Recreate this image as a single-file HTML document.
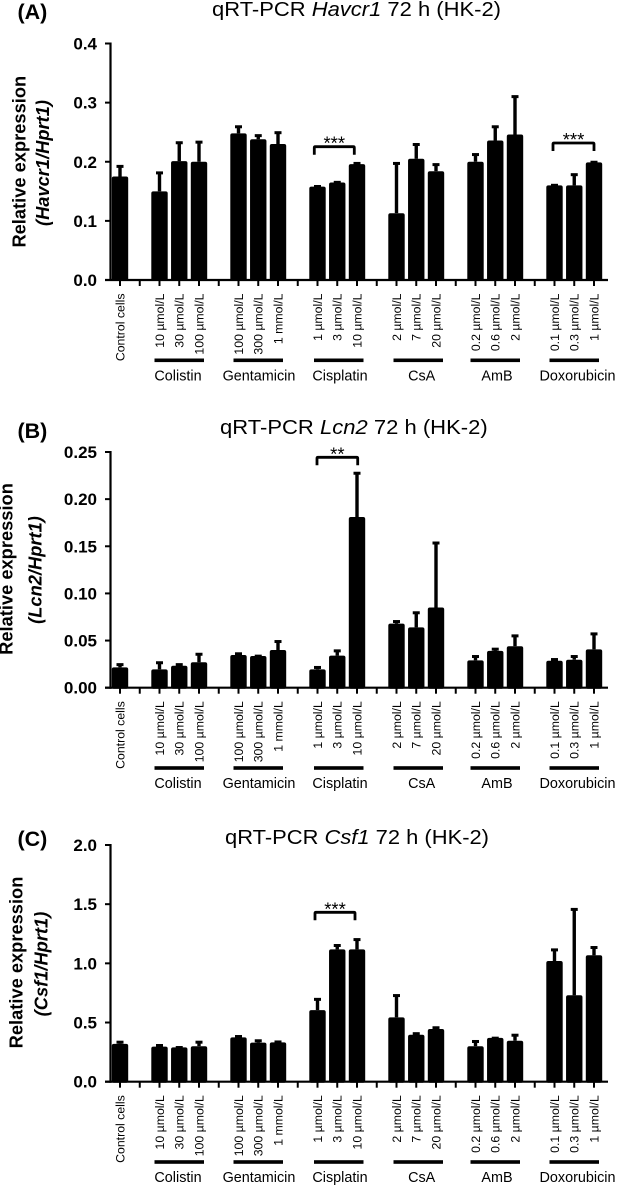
<!DOCTYPE html>
<html lang="en">
<head>
<meta charset="utf-8">
<title>qRT-PCR 72 h (HK-2)</title>
<style>
html,body{margin:0;padding:0;background:#fff;}
#figure{display:block;width:617px;height:1186px;filter:blur(0.3px);}
text{font-family:"Liberation Sans",Arial,sans-serif;fill:#000;}
</style>
</head>
<body>
<svg id="figure" xmlns="http://www.w3.org/2000/svg" width="617" height="1186" viewBox="0 0 617 1186"></svg>
<script>
// ---- shared categories (one slot per x-axis tick; null = empty tick between groups)
const categories = ["Control cells", null,
  "10 µmol/L", "30 µmol/L", "100 µmol/L", null,
  "100 µmol/L", "300 µmol/L", "1 mmol/L", null,
  "1 µmol/L", "3 µmol/L", "10 µmol/L", null,
  "2 µmol/L", "7 µmol/L", "20 µmol/L", null,
  "0.2 µmol/L", "0.6 µmol/L", "2 µmol/L", null,
  "0.1 µmol/L", "0.3 µmol/L", "1 µmol/L"];
const groupNames = ["Colistin", "Gentamicin", "Cisplatin", "CsA", "AmB", "Doxorubicin"];
const groupFirstSlots = [2, 6, 10, 14, 18, 22];

// ---- panel A: Havcr1
const havcr1Values = [0.175, null, 0.150, 0.201, 0.200, null, 0.248, 0.238, 0.230, null, 0.158, 0.165, 0.196, null, 0.113, 0.205, 0.184, null, 0.200, 0.236, 0.246, null, 0.160, 0.160, 0.199];
const havcr1ErrorTops = [0.193, null, 0.182, 0.233, 0.234, null, 0.260, 0.245, 0.250, null, 0.159, 0.166, 0.198, null, 0.198, 0.230, 0.196, null, 0.213, 0.260, 0.311, null, 0.161, 0.179, 0.200];
const havcr1Ticks = ["0.0", "0.1", "0.2", "0.3", "0.4"];

// ---- panel B: Lcn2
const lcn2Values = [0.0216, null, 0.0195, 0.0233, 0.0270, null, 0.0347, 0.0336, 0.0400, null, 0.0195, 0.0340, 0.1810, null, 0.0680, 0.0640, 0.0850, null, 0.0290, 0.0390, 0.0440, null, 0.0286, 0.0297, 0.0407];
const lcn2ErrorTops = [0.0250, null, 0.0270, 0.0250, 0.0360, null, 0.0365, 0.0340, 0.0495, null, 0.0220, 0.0396, 0.2280, null, 0.0707, 0.0800, 0.1540, null, 0.0336, 0.0414, 0.0555, null, 0.0304, 0.0336, 0.0576];
const lcn2Ticks = ["0.00", "0.05", "0.10", "0.15", "0.20", "0.25"];

// ---- panel C: Csf1
const csf1Values = [0.320, null, 0.296, 0.290, 0.300, null, 0.375, 0.330, 0.332, null, 0.605, 1.118, 1.118, null, 0.544, 0.397, 0.445, null, 0.300, 0.370, 0.346, null, 1.020, 0.730, 1.068];
const csf1ErrorTops = [0.338, null, 0.310, 0.293, 0.338, null, 0.386, 0.350, 0.340, null, 0.700, 1.155, 1.205, null, 0.732, 0.410, 0.460, null, 0.344, 0.372, 0.397, null, 1.118, 1.460, 1.138];
const csf1Ticks = ["0.0", "0.5", "1.0", "1.5", "2.0"];

const panels = [
  {key:"a", letter:"(A)", gene:"Havcr1", ratio:"Havcr1/Hprt1", values:havcr1Values, tops:havcr1ErrorTops, ticks:havcr1Ticks,
   y0:280, yTop:43.5, titleX:212, titleW:289, titleY:16, letterY:19,
   yt1X:25.7, yt1C:161.7, yt2X:49, yt2C:163,
   sig:[{x1:314.3,x2:354.3,y:146.7,text:"***"},{x1:553,x2:594,y:143,text:"***"}]},
  {key:"b", letter:"(B)", gene:"Lcn2", ratio:"Lcn2/Hprt1", values:lcn2Values, tops:lcn2ErrorTops, ticks:lcn2Ticks,
   y0:687.7, yTop:452, titleX:220, titleW:267.7, titleY:434, letterY:438,
   yt1X:12.7, yt1C:569, yt2X:41.7, yt2C:570,
   sig:[{x1:317,x2:357.7,y:457.3,text:"**"}]},
  {key:"c", letter:"(C)", gene:"Csf1", ratio:"Csf1/Hprt1", values:csf1Values, tops:csf1ErrorTops, ticks:csf1Ticks,
   y0:1081.7, yTop:845, titleX:225, titleW:264, titleY:844, letterY:846,
   yt1X:22.7, yt1C:962.5, yt2X:47.7, yt2C:964,
   sig:[{x1:315,x2:355,y:912.3,text:"***"}]}
];

const NS = "http://www.w3.org/2000/svg";
const svg = document.getElementById("figure");
const groupOffsets = [0, 0, 1.5, 2, 0, 0];
const groupLabelCenters = [178, 259, 340, 421.7, 497, 577.5];
function xScale(slot){ return 120 + 19.75 * slot; }
function mk(tag, attrs, parent){
  const el = document.createElementNS(NS, tag);
  for (const k in attrs) el.setAttribute(k, attrs[k]);
  (parent || svg).appendChild(el);
  return el;
}
function drawPanel(p){
  const g = mk("g", {});
  
  
  const maxV = parseFloat(p.ticks[p.ticks.length - 1]);
  const yScale = v => p.y0 - (v / maxV) * (p.y0 - p.yTop);

  // panel letter
  const letter = mk("text", {x:17.5, y:p.letterY, "font-size":21.5, "font-weight":"bold"}, g);
  letter.textContent = p.letter;
  
  

  // title
  const title = mk("text", {x:p.titleX, y:p.titleY, "font-size":20.5, textLength:p.titleW, lengthAdjust:"spacingAndGlyphs"}, g);
  
  
  title.appendChild(document.createTextNode("qRT-PCR "));
  const ital = mk("tspan", {"font-style":"italic"}, title);
  ital.textContent = p.gene;
  
  
  title.appendChild(document.createTextNode(" 72 h (HK-2)"));

  // y axis title
  const yt1 = mk("text", {transform:"translate(" + p.yt1X + "," + p.yt1C + ") rotate(-90)", "text-anchor":"middle", "font-size":18.3, "font-weight":"bold"}, g);
  yt1.textContent = "Relative expression";
  
  
  const yt2 = mk("text", {transform:"translate(" + p.yt2X + "," + p.yt2C + ") rotate(-90)", "text-anchor":"middle", "font-size":18.3, "font-weight":"bold", "font-style":"italic"}, g);
  yt2.textContent = "(" + p.ratio + ")";
  
  

  // bars + error bars
  categories.forEach((cat, i) => {
    const v = p.values[i];
    if (v === null) return;
    const cx = xScale(i);
    const stem = mk("rect", {x:cx - 1.7, y:yScale(p.tops[i]), width:3.4, height:Math.max(0, yScale(v) - yScale(p.tops[i])), fill:"#000"}, g);
    
    
    const cap = mk("rect", {x:cx - 3.5, y:yScale(p.tops[i]) - 1, width:7, height:3, fill:"#000"}, g);
    
    
    const bar = mk("rect", {x:cx - 8.2, y:yScale(v), width:16.4, height:p.y0 - yScale(v) + 1, rx:2, ry:2, fill:"#000"}, g);
    
    
  });

  // y axis
  const yAxis = mk("line", {x1:110.5, x2:110.5, y1:p.yTop - 1, y2:p.y0 + 1, stroke:"#000", "stroke-width":2.2}, g);
  
  
  p.ticks.forEach(t => {
    const y = yScale(parseFloat(t));
    const tick = mk("line", {x1:105, x2:110.5, y1:y, y2:y, stroke:"#000", "stroke-width":2}, g);
    
    
    const lab = mk("text", {x:97, y:y + 6, "text-anchor":"end", "font-size":17, "font-weight":"bold"}, g);
    lab.textContent = t;
    
    
  });

  // x axis
  const xAxis = mk("line", {x1:105, x2:608, y1:p.y0, y2:p.y0, stroke:"#000", "stroke-width":2.2}, g);
  
  
  categories.forEach((cat, i) => {
    const cx = xScale(i);
    const tick = mk("line", {x1:cx, x2:cx, y1:p.y0, y2:p.y0 + 6, stroke:"#000", "stroke-width":2}, g);
    
    
    if (cat) {
      const lab = mk("text", {transform:"translate(" + (cx + 4.3) + "," + (p.y0 + 13.5) + ") rotate(-90)", "text-anchor":"end", "font-size":12.3}, g);
      lab.textContent = cat;
      
      
    }
  });

  // group underlines + names
  groupNames.forEach((name, i) => {
    const x1 = xScale(groupFirstSlots[i]) - 5 + groupOffsets[i];
    const x2 = xScale(groupFirstSlots[i] + 2) + 5 + groupOffsets[i];
    const rule = mk("rect", {x:x1, y:p.y0 + 78.5, width:x2 - x1, height:3.6, fill:"#000"}, g);
    
    
    const lab = mk("text", {x:groupLabelCenters[i], y:p.y0 + 100.5, "text-anchor":"middle", "font-size":14.4}, g);
    lab.textContent = name;
    
    
  });

  // significance brackets
  p.sig.forEach(s => {
    const br = mk("path", {d:"M" + s.x1 + " " + (s.y + 8) + "V" + (s.y + 1) + "Q" + s.x1 + " " + s.y + " " + (s.x1 + 1) + " " + s.y + "H" + (s.x2 - 1) + "Q" + s.x2 + " " + s.y + " " + s.x2 + " " + (s.y + 1) + "V" + (s.y + 8), fill:"none", stroke:"#000", "stroke-width":2.8}, g);
    
    
    const st = mk("text", {x:(s.x1 + s.x2) / 2, y:s.y + 3, "text-anchor":"middle", "font-size":18.5}, g);
    st.textContent = s.text;
    
    
  });
}
panels.forEach(drawPanel);
</script>
</body>
</html>
